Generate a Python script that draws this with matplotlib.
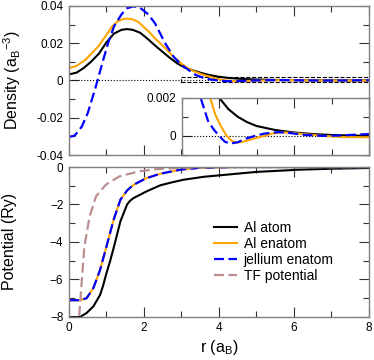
#!/usr/bin/env python3
"""
Density and potential of an Al atom / enatom, with a zoom inset of the density tail.
Saves the figure to out.png.
"""

import matplotlib
matplotlib.use('Agg')
import matplotlib.pyplot as plt
from matplotlib.ticker import MultipleLocator
from matplotlib.patches import Rectangle

# ---- density data (a_B^-3) ----
r_atom_den = [0.0, 0.2, 0.4, 0.6, 0.8, 1.0, 1.2, 1.4, 1.55, 1.7, 1.9, 2.1, 2.3, 2.5,
              2.7, 2.9, 3.1, 3.3, 3.5, 3.75, 4.0, 4.25, 4.5, 4.75, 5.0, 5.5, 6.0,
              6.5, 7.0, 7.5, 8.0]
den_atom = [0.0033, 0.0042, 0.0068, 0.0103, 0.0145, 0.0205, 0.0252, 0.0272, 0.0276,
            0.0272, 0.0256, 0.0223, 0.0187, 0.0153, 0.0120, 0.0090, 0.0068, 0.0055,
            0.0042, 0.0029, 0.0020, 0.00140, 0.00100, 0.00072, 0.00052, 0.00031,
            0.00018, 0.00010, 0.00005, 0.00002, 0.00001]

r_enatom_den = [0.0, 0.2, 0.43, 0.6, 0.78, 1.0, 1.14, 1.3, 1.45, 1.56, 1.7, 1.85, 2.12,
                2.3, 2.56, 2.8, 3.0, 3.2, 3.4, 3.6, 3.76, 3.9, 4.05, 4.2, 4.35, 4.47,
                4.6, 4.8, 5.0, 5.2, 5.4, 5.67, 6.0, 6.4, 6.8, 7.3, 8.0]
den_enatom = [0.0067, 0.0078, 0.0110, 0.0145, 0.0183, 0.0245, 0.0287, 0.0318, 0.0330,
              0.0332, 0.0328, 0.0314, 0.0264, 0.0225, 0.0175, 0.0125, 0.0090, 0.0062,
              0.0044, 0.0029, 0.0020, 0.0011, 0.0005, 0.0, -0.00028, -0.00034,
              -0.00032, -0.00022, -0.00010, 0.0, 0.00012, 0.00019, 0.00015, 0.00007,
              0.0, -0.00006, -0.00007]

r_jel_den = [0.0, 0.15, 0.34, 0.5, 0.69, 0.76, 0.94, 1.05, 1.2, 1.4, 1.55, 1.72, 1.9,
             2.12, 2.3, 2.56, 2.8, 3.0, 3.2, 3.3, 3.4, 3.49, 3.7, 3.85, 4.0, 4.15,
             4.29, 4.5, 4.7, 4.95, 5.2, 5.58, 5.9, 6.3, 6.8, 7.3, 8.0]
den_jel = [-0.0303, -0.0296, -0.0248, -0.0175, -0.0050, 0.0, 0.0130, 0.0205, 0.0290,
           0.0355, 0.0388, 0.0398, 0.0390, 0.0354, 0.0305, 0.0201, 0.0125, 0.0084,
           0.0055, 0.0038, 0.0028, 0.0021, 0.0008, 0.00035, 0.0, -0.0003, -0.0004,
           -0.00033, -0.00015, 0.0, 0.00012, 0.0002, 0.00015, 0.00005, 0.0, 0.00003,
           0.0001]

# ---- potential data (Ry) ----
r_atom_pot = [0.0, 0.29, 0.47, 0.65, 0.83, 0.9, 1.0, 1.1, 1.19, 1.37, 1.55, 1.63, 1.72,
              2.07, 2.43, 2.7, 3.05, 3.6, 4.38, 5.0, 6.16, 7.0, 8.0]
pot_atom = [-8.02, -8.02, -7.8, -7.45, -6.83, -6.4, -5.67, -5.0, -4.33, -2.91, -2.0,
            -1.8, -1.66, -1.3, -0.98, -0.84, -0.68, -0.52, -0.375, -0.26, -0.14,
            -0.09, -0.05]

r_enatom_pot = [0.0, 0.3, 0.47, 0.65, 0.83, 1.0, 1.19, 1.37, 1.55, 1.72, 2.07, 2.43,
                2.97, 3.5, 4.5, 8.0]
pot_enatom = [-7.12, -7.12, -7.01, -6.47, -5.49, -4.24, -2.82, -1.75, -1.25, -0.95,
              -0.59, -0.36, -0.14, -0.04, 0.0, 0.0]
pot_jel = [-7.12, -7.12, -7.01, -6.47, -5.49, -4.24, -2.82, -1.75, -1.25, -0.95,
           -0.59, -0.36, -0.14, -0.04, 0.0, 0.0]

r_tf_pot = [0.25, 0.27, 0.33, 0.41, 0.55, 0.72, 0.98, 1.34, 1.87, 2.4, 3.0, 4.0, 8.0]
pot_tf = [-9.5, -8.0, -6.38, -4.24, -2.64, -1.57, -0.95, -0.5, -0.23, -0.1, -0.04,
          -0.01, 0.0]

labels = ['Al atom', 'Al enatom', 'jellium enatom', 'TF potential']

BLUE = '#0000ff'
ORANGE = '#ffa500'
TF = '#bc8f8f'
SPINE = '#808080'
DASH = (0, (4.5, 2))

plt.rcParams['font.family'] = ['Liberation Sans', 'DejaVu Sans']
plt.rcParams['mathtext.default'] = 'regular'


def style_axes(ax, xmaj, xmin, ymaj, ymin):
    for s in ax.spines.values():
        s.set_color(SPINE)
        s.set_linewidth(1.0)
    ax.xaxis.set_major_locator(MultipleLocator(xmaj))
    ax.xaxis.set_minor_locator(MultipleLocator(xmin))
    ax.yaxis.set_major_locator(MultipleLocator(ymaj))
    ax.yaxis.set_minor_locator(MultipleLocator(ymin))
    ax.tick_params(which='both', direction='in', top=True, right=True,
                   color='#333333', labelsize=8.5, pad=4)
    ax.tick_params(which='major', length=7, width=0.8)
    ax.tick_params(which='minor', length=4, width=0.8)


fig = plt.figure(figsize=(3.74, 3.6), dpi=100)

# top panel: density
ax1 = fig.add_axes([0.1845, 0.5694, 0.802, 0.414])
ax1.axhline(0, color='black', linestyle=':', linewidth=0.8)
ax1.plot(r_atom_den, den_atom, color='black', linewidth=1.5)
ax1.plot(r_enatom_den, den_enatom, color=ORANGE, linewidth=1.5)
ax1.plot(r_jel_den, den_jel, color=BLUE, linewidth=1.6, linestyle=DASH)
ax1.add_patch(Rectangle((3, -0.001), 5, 0.003, fill=False, edgecolor='black',
                        linestyle='--', linewidth=0.8))
ax1.set_xlim(0, 8)
ax1.set_ylim(-0.04, 0.04)
style_axes(ax1, 2, 1, 0.02, 0.01)
ax1.tick_params(labelbottom=False)
ax1.yaxis.set_major_formatter(plt.FuncFormatter(lambda v, p: '0' if abs(v) < 1e-9 else f'{v:g}'))
ax1.set_ylabel(r'Density (a$_B$$^{-3}$)', fontsize=11.5)
ax1.yaxis.set_label_coords(-0.155, 0.5)

# inset: zoom on the tail
ax_in = fig.add_axes([0.4858, 0.5694, 0.5008, 0.159])
ax_in.axhline(0, color='black', linestyle=':', linewidth=0.8)
ax_in.plot(r_atom_den, den_atom, color='black', linewidth=1.5)
ax_in.plot(r_enatom_den, den_enatom, color=ORANGE, linewidth=1.5)
ax_in.plot(r_jel_den, den_jel, color=BLUE, linewidth=1.6, linestyle=DASH)
ax_in.set_xlim(3, 8)
ax_in.set_ylim(-0.001, 0.002)
style_axes(ax_in, 2, 1, 0.002, 0.001)
ax_in.set_yticks([0, 0.002])
ax_in.set_yticklabels(['0', '0.002'])
ax_in.tick_params(labelbottom=False)

# bottom panel: potential
ax2 = fig.add_axes([0.1845, 0.1203, 0.802, 0.4157])
ax2.plot(r_atom_pot, pot_atom, color='black', linewidth=1.5, label=labels[0])
ax2.plot(r_enatom_pot, pot_enatom, color=ORANGE, linewidth=1.5, label=labels[1])
ax2.plot(r_enatom_pot, pot_jel, color=BLUE, linewidth=1.6, linestyle=DASH, label=labels[2])
ax2.plot(r_tf_pot, pot_tf, color=TF, linewidth=1.6, linestyle=DASH, label=labels[3])
ax2.set_xlim(0, 8)
ax2.set_ylim(-8, 0)
style_axes(ax2, 2, 1, 2, 1)
ax2.set_ylabel('Potential (Ry)', fontsize=11.5)
ax2.yaxis.set_label_coords(-0.175, 0.5)
ax2.set_xlabel(r'r (a$_B$)', fontsize=11.5, labelpad=3)
ax2.legend(loc='upper left', bbox_to_anchor=(0.485, 0.64), frameon=False,
           fontsize=10, handlelength=1.6, handletextpad=0.5, labelspacing=0.15,
           borderpad=0, borderaxespad=0)

fig.savefig('out.png', dpi=100, facecolor='white')
plt.close(fig)
